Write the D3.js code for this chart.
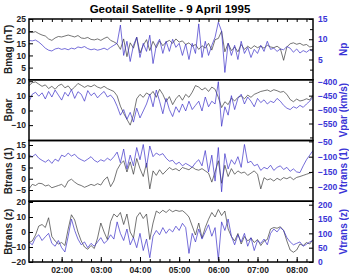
<!DOCTYPE html>
<html>
<head>
<meta charset="utf-8">
<script src="https://cdn.jsdelivr.net/npm/d3@7"></script>
<style>
  body { margin: 0; background: #fff; }
  text { font-family: "Liberation Sans", Arial, sans-serif; font-weight: bold; }
</style>
</head>
<body>
<div id="chart"></div>
<script>
// samples every 5 minutes from 01:10 UT
const startTime = "1995-04-09 01:10";
const stepMinutes = 5;
const hourTicks = ["02:00", "03:00", "04:00", "05:00", "06:00", "07:00", "08:00"];

// panel 1
const bmag = [19.6, 19.4, 19.8, 19.0, 18.4, 18.0, 16.8, 16.2, 17.2, 17.8, 17.6, 18.0, 18.4, 18.0, 17.6, 18.2, 17.2, 17.0, 17.4, 16.6, 16.4, 16.8, 16.2, 17.0, 17.6, 16.2, 15.6,
  14.8, 12.5, 16.8, 9.5, 15.2, 13.0, 17.5, 11.0, 14.2, 16.5, 12.0, 15.8, 13.2, 16.0, 14.0, 15.5,
  16.2, 15.0, 16.8, 15.5, 16.0, 14.5, 15.2,
  13.8, 14.5, 12.5, 14.0, 13.0, 15.0, 12.2, 16.5,
  17.0, 20.0, 11.5, 15.0, 12.0, 13.5, 11.5, 14.5, 12.5, 13.8, 12.8, 14.0, 13.2, 13.8, 13.0, 14.2,
  13.5, 13.2, 13.8, 12.8, 8.0, 13.5, 14.8, 15.2, 14.6, 15.0, 14.2, 14.5, 13.5, 13.8];
const np = [9.7, 9.6, 9.8, 9.3, 8.6, 7.8, 7.3, 7.1, 7.6, 7.8, 7.5, 7.7, 7.4, 7.8, 7.6, 8.1, 7.9, 8.2, 7.7, 7.4, 7.6, 7.3, 7.5, 7.8, 7.4, 8.0, 8.5,
  9.0, 13.5, 6.0, 9.5, 4.5, 8.5, 10.5, 5.5, 9.0, 7.0, 11.0, 4.0, 8.5, 10.0, 6.5, 9.5, 7.0, 10.0, 8.0, 9.0, 6.0, 8.8, 5.0,
  9.0, 6.5, 13.8, 5.5, 9.5, 6.0, 8.5, 10.5, 14.2, 12.0, 1.8, 9.0, 6.0, 8.5, 5.0, 9.5, 6.5, 8.0, 5.5, 7.5, 6.5, 8.5, 7.0, 9.5,
  7.5, 7.8, 7.0, 7.6, 7.4, 8.2, 7.8, 6.8, 7.6, 6.6, 7.2, 6.8, 7.4, 7.0];

// panel 2
const bpar = [17.0, 19.0, 19.5, 18.0, 16.5, 17.5, 15.0, 16.5, 14.5, 17.0, 18.0, 15.5, 16.8, 14.0, 16.0, 18.5, 17.2, 15.8, 17.0, 16.2, 17.5, 16.0, 15.2, 16.5, 15.0, 14.0, 13.0,
  10.0, 3.0, -2.0, -6.0, -10.0, -3.0, 8.0, 11.0, 9.0, 12.0,
  10.5, 13.0, 9.0, 14.5, 11.0, 6.0, 9.5, 4.0,
  8.0, 10.5, 7.0, 11.0, 9.0, 12.5, 17.0,
  16.0, 14.0, 15.5, 13.0, 16.0, 14.5,
  9.0, 2.0, 6.0, 4.0, 8.5, 6.5,
  9.0, 10.0, 8.0, 10.5, 9.0, 11.0, 12.0, 13.0,
  13.5, 14.0, 13.0, 14.2, 13.5, 12.5, 13.0, 11.0,
  7.5, 6.0, 7.8, 6.5, 7.0, 8.0, 7.2, 10.5];
const vpar = [-471, -445, -438, -452, -440, -462, -435, -455, -430, -448, -466, -438, -452, -428, -460, -436, -445, -470, -432, -450, -440, -458, -445, -435, -455, -448, -462,
  -488, -520, -500, -535, -510, -545, -495, -530, -505, -480,
  -445, -490, -430, -470, -515, -460, -500, -525,
  -490, -510, -480, -505, -470, -500, -485,
  -470, -505, -455, -490, -470, -480,
  -400, -560, -490, -520, -450, -500,
  -460, -445, -480, -455, -470, -490, -460, -475,
  -465, -480, -470, -475, -460, -470, -485, -495,
  -500, -490, -495, -485, -492, -480, -470, -455];

// panel 3
const btrans1 = [-4.5, -2.5, -3.0, -2.0, -2.2, -3.2, -2.8, -4.0, -3.5, -3.0, -2.5, -3.8, -1.0, -0.2, -1.5, -2.5, -3.0, -3.8, -3.2, -2.5, -3.0, -2.2, -2.8, -0.5, 0.8, -3.5, -1.0,
  4.0, 6.5, 8.0, 3.0, 7.5, 2.0, 9.0, 4.5, 1.0, 7.0, -4.5, 3.5, 1.5, 4.0, 2.0, 3.5, 5.0, 4.0, 4.5, 3.5,
  5.0, 4.5, 4.0, 5.2, 4.2, 3.8, 4.5, 3.5, 2.5, -1.5,
  3.0, 8.0, -2.0, 6.0, 1.0, 4.5, 2.0, 3.5, 2.5, 3.0, 1.5, 2.5, 3.5, 2.0, -4.5,
  0.5, -0.5, 0.0, -1.0, 0.2, -0.6, 0.5, 0.0, 0.8, -0.4, 0.6, 1.0, 1.5, 2.0, 2.5, 3.0];
const vtrans1 = [-95, -100, -92, -105, -112, -118, -110, -122, -108, -115, -95, -100, -88, -98, -92, -104, -110, -115, -108, -100, -112, -118, -110, -115, -105, -112, -100,
  -85, -120, -75, -140, -95, -130, -70, -110, -60, -135, -65, -100, -88, -95, -90, -105, -115, -112, -125, -118,
  -130, -122, -128, -135, -120, -110, -130, -80, -150, -95, -180, -70, -215, -90, -140, -110,
  -125, -100, -135, -60, -120, -115, -130, -125, -145, -135, -140, -128, -145, -135, -130, -142, -135, -148, -140, -150,
  -152, -130, -110, -95, -80];

// panel 4
const btransz = [-7, -6, -2, 4, 5, 3, 9.5, -3, -6, -8, -7, -9, 2, 11.5, 8, 0, -6, -10, -11.5, -9, -11, -4, 6, 0, -5, 7, 12,
  10, 13, 5, 12, 0, -4, 10, 13, 9, 12, -5, 6, 14, 12.5, 14.5, 13, 15, 13.5, 14.5, 13.8, 14.2, 12.5, 10, 4,
  -2, 6, -4, 3, 8.5, 13, 10, 15, 11, 14, 2, -3, -6, -1, -8, -3, -6, -4, -7, -5, -9,
  -6, -5, 2, 3, 2.5, 3.5, 1, -6, -12, -13.5, -12, -8, -9, -7, -8, -5];
const vtransz = [70, 60, 85, 95, 75, 88, 100, 65, 55, 75, 50, 35, 90, 150, 110, 80, 60, 70, 50, 65, 55, 70, 85, 65, 75, 95, 80,
  140, 100, 75, 115, 60, 85, 50, 100, 40, 80, 15, 90, 110, 95, 120, 100, 115, 105, 125, 110, 135, 120, 30, 100,
  70, 115, 80, 105, 130, 90, 120, 8, 140, 110, 150, 90, 60, 95, 70, 100, 55, 85, 40, 75, 65,
  80, 60, 100, 115, 105, 120, 110, 85, 70, 60, 65, 70, 55, 62, 70, 75];

const panels = [
  { left: bmag, right: np, leftLabel: "Bmag (nT)", rightLabel: "Np",
    leftDomain: [0, 25], rightDomain: [0, 15],
    leftTicks: [5, 10, 15, 20, 25], rightTicks: [5, 10, 15], rightMinor: [2.5, 7.5, 12.5] },
  { left: bpar, right: vpar, leftLabel: "Bpar", rightLabel: "Vpar (km/s)",
    leftDomain: [-20.5, 21], rightDomain: [-611, -393],
    leftTicks: [-10, 0, 10, 20], rightTicks: [-550, -500, -450, -400], rightMinor: [-600] },
  { left: btrans1, right: vtrans1, leftLabel: "Btrans (1)", rightLabel: "Vtrans (1)",
    leftDomain: [-10, 17], rightDomain: [-246, -47],
    leftTicks: [-5, 0, 5, 10, 15], rightTicks: [-200, -150, -100, -50], rightMinor: [] },
  { left: btransz, right: vtransz, leftLabel: "Btrans (z)", rightLabel: "Vtrans (z)",
    leftDomain: [-20, 20.5], rightDomain: [0, 212],
    leftTicks: [-20, -10, 0, 10, 20], rightTicks: [0, 50, 100, 150, 200], rightMinor: [] }
];

const W = 349, H = 276;
const plotL = 29, plotR = 313, plotT = 19, plotB = 262;
const panelH = (plotB - plotT) / panels.length;
const blue = "#3b2fc9";
const blueText = "#3a34d6";
const tickFont = 8.5;

const parseTime = d3.timeParse("%Y-%m-%d %H:%M");
const t0 = parseTime(startTime);
const timeAt = i => d3.timeMinute.offset(t0, i * stepMinutes);

const x = d3.scaleTime()
  .domain([t0, d3.timeMinute.offset(t0, 435)])
  .range([plotL, plotR]);

const svg = d3.select("#chart").append("svg")
  .attr("width", W).attr("height", H);

svg.append("text")
  .attr("x", 170).attr("y", 13)
  .attr("text-anchor", "middle")
  .attr("font-size", 11.5)
  .text("Geotail Satellite - 9 April 1995");

panels.forEach((p, k) => {
  const top = plotT + k * panelH, bot = top + panelH;
  const yL = d3.scaleLinear().domain(p.leftDomain).range([bot, top]);
  const yR = d3.scaleLinear().domain(p.rightDomain).range([bot, top]);

  const g = svg.append("g");

  g.append("clipPath").attr("id", "clip" + k)
    .append("rect").attr("x", plotL).attr("y", top).attr("width", plotR - plotL).attr("height", panelH);

  const lineL = d3.line().x((d, i) => x(timeAt(i))).y(d => yL(d));
  const lineR = d3.line().x((d, i) => x(timeAt(i))).y(d => yR(d));

  g.append("path").datum(p.left)
    .attr("clip-path", `url(#clip${k})`)
    .attr("fill", "none").attr("stroke", "#3a3a3a").attr("stroke-width", 0.7)
    .attr("d", lineL);
  g.append("path").datum(p.right)
    .attr("clip-path", `url(#clip${k})`)
    .attr("fill", "none").attr("stroke", blue).attr("stroke-width", 0.7)
    .attr("d", lineR);

  // left axis
  const ax = g.append("g").attr("transform", `translate(${plotL},0)`)
    .call(d3.axisLeft(yL).tickValues(p.leftTicks).tickSize(-4).tickPadding(3));
  ax.select(".domain").remove();
  ax.selectAll("text").attr("font-size", tickFont).attr("font-family", "Liberation Sans, Arial, sans-serif")
    .attr("font-weight", "bold").attr("fill", "#222");
  ax.selectAll("line").attr("stroke", "#000");

  // right axis
  const ar = g.append("g").attr("transform", `translate(${plotR},0)`)
    .call(d3.axisRight(yR).tickValues(p.rightTicks).tickSize(-4).tickPadding(5));
  ar.select(".domain").remove();
  ar.selectAll("text").attr("font-size", tickFont).attr("font-family", "Liberation Sans, Arial, sans-serif")
    .attr("font-weight", "bold").attr("fill", blueText);
  ar.selectAll("line").attr("stroke", "#000");
  if (p.rightMinor.length) {
    const am = g.append("g").attr("transform", `translate(${plotR},0)`)
      .call(d3.axisRight(yR).tickValues(p.rightMinor).tickSize(-3).tickFormat(""));
    am.select(".domain").remove();
  }

  // frame
  g.append("rect")
    .attr("x", plotL).attr("y", top).attr("width", plotR - plotL).attr("height", panelH)
    .attr("fill", "none").attr("stroke", "#000").attr("stroke-width", 1.5);

  // axis titles
  g.append("text")
    .attr("transform", `translate(8,${(top + bot) / 2}) rotate(-90)`)
    .attr("text-anchor", "middle").attr("dominant-baseline", "central")
    .attr("font-size", 10).attr("fill", "#222")
    .text(p.leftLabel);
  g.append("text")
    .attr("transform", `translate(343,${(top + bot) / 2}) rotate(-90)`)
    .attr("text-anchor", "middle").attr("dominant-baseline", "central")
    .attr("font-size", 10).attr("fill", blueText)
    .text(p.rightLabel);
});

// time ticks on top and bottom
const quarter = d3.timeMinute.every(15);
const topAx = svg.append("g").attr("transform", `translate(0,${plotT})`)
  .call(d3.axisTop(x).ticks(quarter).tickSize(-3).tickFormat(""));
topAx.select(".domain").remove();

const botMinor = svg.append("g").attr("transform", `translate(0,${plotB})`)
  .call(d3.axisBottom(x).ticks(quarter).tickSize(-3).tickFormat(""));
botMinor.select(".domain").remove();

const fmt = d3.timeFormat("%H:%M");
const hourDates = hourTicks.map(s => parseTime("1995-04-09 " + s));
const botAx = svg.append("g").attr("transform", `translate(0,${plotB})`)
  .call(d3.axisBottom(x).tickValues(hourDates).tickSize(-5).tickPadding(5).tickFormat(fmt));
botAx.select(".domain").remove();
botAx.selectAll("text").attr("font-size", tickFont).attr("font-family", "Liberation Sans, Arial, sans-serif")
  .attr("font-weight", "bold").attr("fill", "#222");
</script>
</body>
</html>
